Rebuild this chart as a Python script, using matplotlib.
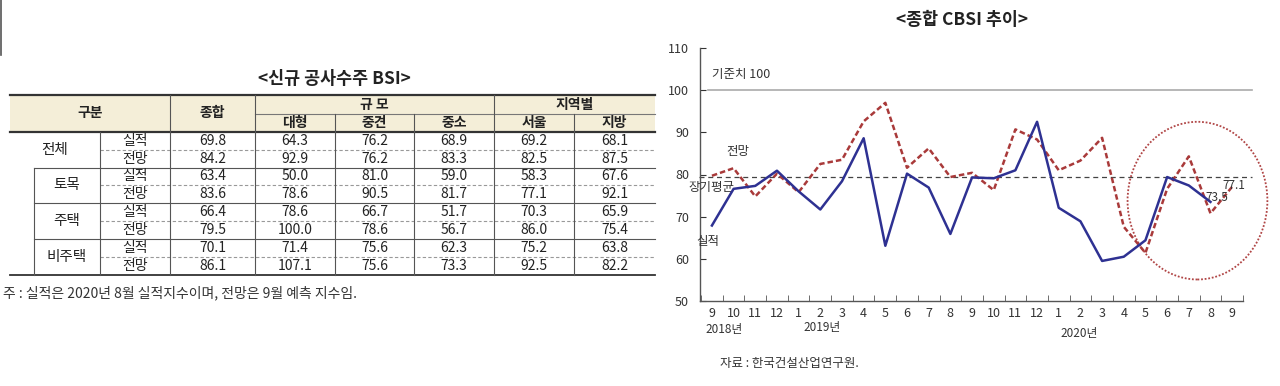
import matplotlib
matplotlib.use('Agg')
import matplotlib.pyplot as plt
from matplotlib.patches import Rectangle, Ellipse

plt.rcParams['font.family'] = ['Noto Sans CJK KR', 'DejaVu Sans']

# ---- table data ----
groups = ['전체', '토목', '주택', '비주택']
kinds = ['실적', '전망']
scale_cols = ['대형', '중견', '중소']
region_cols = ['서울', '지방']
table_vals = [
    [69.8, 64.3, 76.2, 68.9, 69.2, 68.1],
    [84.2, 92.9, 76.2, 83.3, 82.5, 87.5],
    [63.4, 50.0, 81.0, 59.0, 58.3, 67.6],
    [83.6, 78.6, 90.5, 81.7, 77.1, 92.1],
    [66.4, 78.6, 66.7, 51.7, 70.3, 65.9],
    [79.5, 100.0, 78.6, 56.7, 86.0, 75.4],
    [70.1, 71.4, 75.6, 62.3, 75.2, 63.8],
    [86.1, 107.1, 75.6, 73.3, 92.5, 82.2],
]

# ---- CBSI chart data ----
months = ['9', '10', '11', '12', '1', '2', '3', '4', '5', '6', '7', '8', '9',
          '10', '11', '12', '1', '2', '3', '4', '5', '6', '7', '8', '9']
actual = [67.9, 76.6, 77.3, 80.9, 76.0, 71.7, 78.4, 88.6, 63.1, 80.2, 76.9, 65.9,
          79.3, 79.1, 81.0, 92.5, 72.1, 68.9, 59.5, 60.5, 64.4, 79.4, 77.4, 73.5]
forecast = [79.7, 81.5, 74.8, 80.2, 75.8, 82.5, 83.5, 92.6, 97.0, 81.6, 86.2, 79.4,
            80.4, 76.3, 90.7, 88.3, 81.0, 83.3, 88.7, 67.6, 61.4, 76.6, 84.3, 70.8, 77.1]
long_avg = 79.4
base_line = 100

fig = plt.figure(figsize=(12.8, 3.86), dpi=100)

# canvas in pixel coordinates for the table and loose texts
cv = fig.add_axes([0, 0, 1, 1])
cv.set_xlim(0, 1280)
cv.set_ylim(386, 0)
cv.axis('off')

dark = '#333333'
fs = 10

# table title
cv.text(334, 79, '<신규 공사수주 BSI>', ha='center', va='center', fontsize=12.5, fontweight='bold', color='#222')

# header
x0, x1 = 10, 655
h_top, h_mid, h_bot = 95, 114, 131.7
cv.add_patch(Rectangle((x0, h_top), x1 - x0, h_bot - h_top, facecolor='#F4EED8', edgecolor='none'))
cv.plot([x0, x1], [h_top, h_top], color=dark, lw=1.6)
cv.plot([x0, x1], [h_bot, h_bot], color=dark, lw=1.6)
cv.plot([255, x1], [h_mid, h_mid], color='#777', lw=0.8)
for xv in [170, 255, 494]:
    cv.plot([xv, xv], [h_top, h_bot], color='#555', lw=0.8)
for xv in [335, 414, 574]:
    cv.plot([xv, xv], [h_mid, h_bot], color='#555', lw=0.8)

col_edges = [170, 255, 335, 414, 494, 574, 655]
col_centers = [(col_edges[i] + col_edges[i + 1]) / 2 for i in range(6)]
cv.text(90, (h_top + h_bot) / 2, '구분', ha='center', va='center', fontsize=fs, fontweight='bold', color='#222')
cv.text(col_centers[0], (h_top + h_bot) / 2, '종합', ha='center', va='center', fontsize=fs, fontweight='bold', color='#222')
cv.text((255 + 494) / 2, (h_top + h_mid) / 2, '규 모', ha='center', va='center', fontsize=fs, fontweight='bold', color='#222')
cv.text((494 + 655) / 2, (h_top + h_mid) / 2, '지역별', ha='center', va='center', fontsize=fs, fontweight='bold', color='#222')
for name, cx in zip(scale_cols + region_cols, col_centers[1:]):
    cv.text(cx, (h_mid + h_bot) / 2 + 0.5, name, ha='center', va='center', fontsize=fs, fontweight='bold', color='#222')

# body
row_h = (275 - h_bot) / 8
row_tops = [h_bot + i * row_h for i in range(9)]
for i, row in enumerate(table_vals):
    cy = row_tops[i] + row_h / 2
    cv.text(135, cy, kinds[i % 2], ha='center', va='center', fontsize=fs, color='#222')
    for v, cx in zip(row, col_centers):
        cv.text(cx, cy, f'{v:.1f}', ha='center', va='center', fontsize=fs, color='#222')
for g, name in enumerate(groups):
    cy = row_tops[2 * g + 1]
    cx = 55 if g == 0 else 67
    cv.text(cx, cy, name, ha='center', va='center', fontsize=fs + 0.5, color='#222')
    # dashed line between 실적 and 전망
    cv.plot([100, x1], [cy, cy], color='#999', lw=0.8, ls=(0, (3, 2)))
    if g > 0:
        cv.plot([34, x1], [row_tops[2 * g], row_tops[2 * g]], color='#555', lw=0.8)
cv.plot([x0, x1], [275, 275], color=dark, lw=1.3)
cv.plot([34, 34], [row_tops[2], 275], color='#555', lw=0.8)
for xv in [100] + col_edges[:-1]:
    cv.plot([xv, xv], [h_bot, 275], color='#555', lw=0.8)

cv.text(3, 293, '주 : 실적은 2020년 8월 실적지수이며, 전망은 9월 예측 지수임.', ha='left', va='center',
        fontsize=10, color='#333')
cv.plot([1, 1], [0, 55], color='#555', lw=1.2)

# chart texts outside the axes
cv.text(962, 20, '<종합 CBSI 추이>', ha='center', va='center', fontsize=12.5, fontweight='bold', color='#222')
cv.text(724, 329, '2018년', ha='center', va='center', fontsize=8.5, color='#333')
cv.text(822, 328, '2019년', ha='center', va='center', fontsize=8.5, color='#333')
cv.text(1079, 333, '2020년', ha='center', va='center', fontsize=8.5, color='#333')
cv.text(720, 364, '자료 : 한국건설산업연구원.', ha='left', va='center', fontsize=9, color='#333')

# ---- line chart ----
ax = fig.add_axes([700 / 1280, 1 - 301 / 386, 543 / 1280, 253 / 386])
ax.patch.set_alpha(0)
x = list(range(len(months)))
ax.plot([-0.2, 24.9], [base_line, base_line], color='#aaaaaa', lw=1.2, clip_on=False)
ax.plot([-0.6, 24.9], [long_avg, long_avg], color='#444', lw=0.9, ls=(0, (4, 3)), clip_on=False)
ax.plot(x, forecast, color='#A93A3A', lw=1.8, ls=(0, (2.2, 1.2)), zorder=3)
ax.plot(x[:len(actual)], actual, color='#2E3192', lw=1.8, zorder=4)
ax.add_patch(Ellipse((22.4, 73.8), 6.45, 37.4, fill=False, edgecolor='#B04545', lw=1.3,
                     ls=(0, (1, 1)), clip_on=False, zorder=2))

ax.set_xlim(-0.55, 24.47)
ax.set_ylim(50, 110)
ax.set_yticks(range(50, 111, 10))
ax.set_xticks(x)
ax.set_xticklabels(months)
ax.set_xticks([i + 0.5 for i in range(-1, 25)], minor=True)
ax.tick_params(axis='x', which='major', length=0, pad=4, labelsize=9, colors='#333')
ax.tick_params(axis='x', which='minor', direction='in', length=4, color='#555')
ax.tick_params(axis='y', direction='in', length=4, pad=8, labelsize=9, colors='#333')
for s in ['top', 'right']:
    ax.spines[s].set_visible(False)
for s in ['left', 'bottom']:
    ax.spines[s].set_color('#555')
    ax.spines[s].set_linewidth(1.0)

ax.text(0, 103.8, '기준치 100', ha='left', va='center', fontsize=9, color='#333')
ax.text(1.2, 85.4, '전망', ha='center', va='center', fontsize=9, color='#333')
ax.text(0.0, 77.0, '장기평균', ha='center', va='center', fontsize=9, color='#333', clip_on=False)
ax.text(-0.2, 64.0, '실적', ha='center', va='center', fontsize=9, color='#333')
ax.text(23.3, 74.5, '73.5', ha='center', va='center', fontsize=8.5, color='#333')
ax.text(24.1, 77.4, '77.1', ha='center', va='center', fontsize=8.5, color='#333')

fig.savefig('out.png', dpi=100, facecolor='white')
